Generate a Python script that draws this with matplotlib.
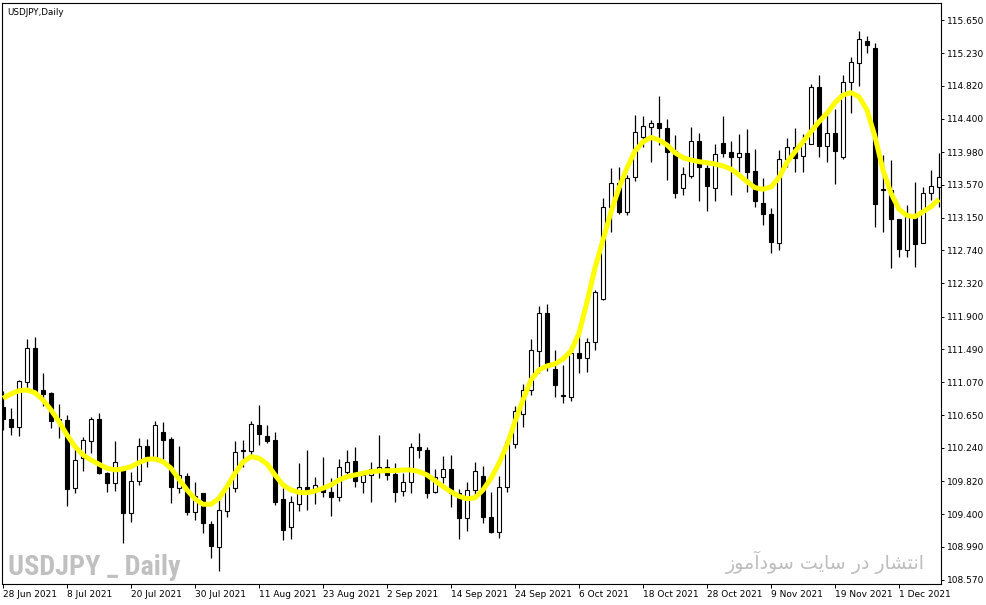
import numpy as np
import matplotlib
matplotlib.use('Agg')
import matplotlib.pyplot as plt
from matplotlib import font_manager

# chart texts
symbol_title = 'USDJPY,Daily'
watermark = 'USDJPY _ Daily'
persian_note = 'انتشار در سایت سودآموز'

# x axis labels (every 8th daily bar, bars counted from 28 Jun 2021)
date_label_bars = [0, 8, 16, 24, 32, 40, 48, 56, 64, 72, 80, 88, 96, 104, 112]
date_labels = ['28 Jun 2021', '8 Jul 2021', '20 Jul 2021', '30 Jul 2021', '11 Aug 2021',
               '23 Aug 2021', '2 Sep 2021', '14 Sep 2021', '24 Sep 2021', '6 Oct 2021',
               '18 Oct 2021', '28 Oct 2021', '9 Nov 2021', '19 Nov 2021', '1 Dec 2021']

# y axis labels
price_labels = ['115.650', '115.230', '114.820', '114.400', '113.980', '113.570',
                '113.150', '112.740', '112.320', '111.900', '111.490', '111.070',
                '110.650', '110.240', '109.820', '109.400', '108.990', '108.570']

# daily OHLC
opens = [110.754, 110.606, 110.508, 111.077, 111.499, 110.972, 110.938, 110.600, 110.593, 109.730,
         110.109, 110.331, 110.606, 109.923, 109.793, 109.999, 109.420, 109.818, 110.261, 110.129,
         110.438, 110.353, 109.730, 109.885, 109.433, 109.666, 109.278, 108.983, 109.446, 109.730,
         110.206, 110.205, 110.530, 110.387, 110.340, 109.590, 109.236, 109.527, 109.742, 109.699,
         109.730, 109.678, 109.623, 109.932, 110.075, 109.813, 109.899, 109.965, 109.995, 109.910,
         109.692, 109.806, 110.248, 110.214, 109.678, 109.869, 109.970, 109.666, 109.350, 109.708,
         109.881, 109.362, 109.180, 109.750, 110.294, 110.665, 110.968, 111.469, 111.942, 111.234,
         110.909, 110.888, 111.436, 111.373, 111.583, 112.119, 113.282, 113.585, 113.226, 113.661,
         114.175, 114.301, 114.344, 114.281, 113.994, 113.530, 113.681, 114.120, 113.775, 113.530,
         114.091, 113.977, 113.922, 113.965, 113.741, 113.332, 113.193, 112.834, 113.889, 114.041,
         113.931, 114.082, 114.799, 114.061, 114.225, 113.914, 114.862, 115.103, 115.388, 115.292,
         113.514, 113.497, 113.130, 112.742, 113.163, 112.827, 113.459, 113.542]

highs = [110.964, 110.745, 111.099, 111.617, 111.646, 111.184, 110.951, 110.795, 110.656, 110.235,
         110.382, 110.627, 110.678, 109.930, 110.331, 110.005, 109.940, 110.362, 110.349, 110.580,
         110.564, 110.374, 110.261, 109.919, 109.806, 109.672, 109.316, 109.657, 109.783, 110.331,
         110.340, 110.580, 110.783, 110.530, 110.438, 109.730, 109.632, 110.046, 110.214, 109.868,
         110.129, 109.856, 110.096, 110.214, 110.248, 109.953, 110.066, 110.404, 110.096, 110.046,
         109.919, 110.306, 110.425, 110.248, 109.970, 110.138, 110.151, 109.720, 109.806, 110.066,
         110.016, 109.686, 109.885, 110.331, 110.770, 111.044, 111.613, 112.034, 112.059, 111.478,
         111.288, 111.541, 111.765, 111.626, 112.237, 113.396, 113.775, 113.788, 113.690, 114.449,
         114.436, 114.386, 114.689, 114.395, 114.196, 113.788, 114.301, 114.218, 113.816, 114.082,
         114.436, 114.120, 114.205, 114.268, 114.016, 113.648, 113.269, 114.007, 114.154, 114.288,
         114.209, 114.841, 114.955, 114.478, 114.521, 114.955, 115.186, 115.511, 115.448, 115.355,
         113.943, 113.880, 113.134, 113.311, 113.598, 113.543, 113.754, 113.969]

lows = [110.467, 110.404, 110.391, 110.994, 110.922, 110.770, 110.492, 110.366, 109.509, 109.673,
        109.952, 110.172, 109.910, 109.682, 109.698, 109.041, 109.299, 109.771, 110.003, 110.087,
        110.087, 109.547, 109.666, 109.391, 109.328, 109.164, 108.852, 108.683, 109.370, 109.678,
        110.003, 110.142, 110.277, 110.298, 109.518, 109.075, 109.091, 109.446, 109.455, 109.530,
        109.623, 109.382, 109.572, 109.898, 109.750, 109.673, 109.560, 109.856, 109.834, 109.560,
        109.635, 109.666, 110.117, 109.602, 109.666, 109.800, 109.496, 109.083, 109.189, 109.632,
        109.294, 109.164, 109.097, 109.686, 110.235, 110.508, 110.909, 111.183, 111.216, 110.880,
        110.804, 110.837, 111.183, 111.204, 111.478, 112.110, 112.973, 113.197, 113.184, 113.618,
        114.049, 113.860, 114.070, 113.627, 113.395, 113.437, 113.648, 113.365, 113.239, 113.365,
        113.922, 113.437, 113.725, 113.479, 113.282, 113.058, 112.698, 112.742, 113.788, 113.732,
        113.732, 114.079, 113.914, 113.859, 113.572, 113.889, 114.471, 114.816, 115.229, 113.029,
        112.973, 112.511, 112.650, 112.650, 112.531, 112.827, 113.374, 113.282]

closes = [110.602, 110.508, 111.082, 111.499, 110.931, 110.922, 110.584, 110.590, 109.725, 110.084,
          110.340, 110.606, 109.927, 109.800, 110.058, 109.420, 109.818, 110.261, 110.129, 110.526,
          110.340, 109.742, 109.899, 109.433, 109.632, 109.290, 109.003, 109.451, 109.742, 110.192,
          110.214, 110.539, 110.412, 110.331, 109.560, 109.202, 109.552, 109.742, 109.699, 109.775,
          109.678, 109.623, 110.003, 110.058, 109.826, 109.899, 109.970, 109.995, 109.894, 109.686,
          109.806, 110.248, 110.214, 109.673, 109.876, 109.970, 109.666, 109.350, 109.708, 109.945,
          109.370, 109.180, 109.750, 110.311, 110.711, 110.968, 111.474, 111.942, 111.267, 111.039,
          110.890, 111.436, 111.373, 111.583, 112.215, 113.282, 113.585, 113.226, 113.656, 114.231,
          114.310, 114.344, 114.288, 113.985, 113.466, 113.699, 114.120, 113.795, 113.555, 113.952,
          113.972, 113.922, 113.965, 113.732, 113.365, 113.197, 112.847, 113.889, 114.041, 113.902,
          114.091, 114.799, 114.061, 114.225, 113.998, 114.862, 115.115, 115.406, 115.330, 113.320,
          113.503, 113.130, 112.751, 113.163, 112.814, 113.459, 113.551, 113.661]

# yellow moving average line
ma = [110.867, 110.922, 110.964, 110.972, 110.938, 110.846, 110.720, 110.572, 110.404, 110.256,
      110.151, 110.087, 110.033, 109.983, 109.961, 109.974, 110.003, 110.054, 110.096, 110.100,
      110.066, 109.983, 109.844, 109.708, 109.594, 109.527, 109.527, 109.602, 109.750, 109.919,
      110.062, 110.129, 110.109, 110.037, 109.898, 109.771, 109.708, 109.678, 109.673, 109.695,
      109.730, 109.771, 109.834, 109.876, 109.898, 109.919, 109.940, 109.948, 109.952, 109.952,
      109.961, 109.961, 109.940, 109.898, 109.826, 109.750, 109.686, 109.628, 109.597, 109.609,
      109.708, 109.856, 110.046, 110.277, 110.572, 110.846, 111.099, 111.225, 111.276, 111.301,
      111.364, 111.465, 111.689, 112.085, 112.515, 112.869, 113.223, 113.526, 113.779, 113.994,
      114.111, 114.164, 114.133, 114.070, 113.972, 113.909, 113.880, 113.859, 113.846, 113.829,
      113.804, 113.766, 113.691, 113.606, 113.530, 113.510, 113.539, 113.659, 113.849, 113.985,
      114.111, 114.238, 114.364, 114.470, 114.604, 114.702, 114.731, 114.680, 114.512, 114.175,
      113.754, 113.459, 113.257, 113.178, 113.163, 113.226, 113.290, 113.383]

# simple Arabic-script shaping (matplotlib has no shaping / bidi)
FORMS = {  # isolated, final, initial, medial
    'ا': ('\uFE8D', '\uFE8E', None, None),
    'آ': ('\uFE81', '\uFE82', None, None),
    'د': ('\uFEA9', '\uFEAA', None, None),
    'ر': ('\uFEAD', '\uFEAE', None, None),
    'ز': ('\uFEAF', '\uFEB0', None, None),
    'و': ('\uFEED', '\uFEEE', None, None),
    'ت': ('\uFE95', '\uFE96', '\uFE97', '\uFE98'),
    'ن': ('\uFEE5', '\uFEE6', '\uFEE7', '\uFEE8'),
    'ش': ('\uFEB5', '\uFEB6', '\uFEB7', '\uFEB8'),
    'س': ('\uFEB1', '\uFEB2', '\uFEB3', '\uFEB4'),
    'م': ('\uFEE1', '\uFEE2', '\uFEE3', '\uFEE4'),
    'ی': ('\uFBFC', '\uFBFD', '\uFBFE', '\uFBFF'),
}


def shape_word(word):
    out = []
    for k, ch in enumerate(word):
        iso, fin, ini, med = FORMS[ch]
        prev_joins = k > 0 and FORMS[word[k - 1]][2] is not None
        next_joins = k < len(word) - 1 and ini is not None
        if prev_joins and next_joins:
            g = med
        elif prev_joins:
            g = fin
        elif next_joins:
            g = ini
        else:
            g = iso
        out.append(g)
    return ''.join(reversed(out))


def visual_rtl(text):
    return ' '.join(shape_word(w) for w in reversed(text.split()))


W, H = 987, 605
fig = plt.figure(figsize=(W / 100, H / 100), dpi=100, facecolor='white')
ax = fig.add_axes([2 / W, 1 - 584 / H, (941 - 2) / W, (584 - 3) / H])
ax.set_facecolor('white')

x = np.arange(len(opens))
o = np.array(opens)
c = np.array(closes)
bull = c >= o
bottoms = np.minimum(o, c)
heights = np.abs(c - o)

ax.vlines(x, lows, highs, color='black', linewidth=0.9, zorder=1)
ax.bar(x, heights, bottom=bottoms, width=0.5,
       color=np.where(bull, 'white', 'black'), edgecolor='black',
       linewidth=0.8, zorder=2)
ax.plot(x, ma, color='#ffff00', linewidth=3.6, solid_capstyle='butt', zorder=3)

ax.set_xlim(-0.125, 117.25)
ax.set_ylim(108.519, 115.865)

ax.yaxis.tick_right()
ax.set_yticks([float(s) for s in price_labels])
ax.set_yticklabels(price_labels)
ax.set_xticks(date_label_bars)
ax.set_xticklabels(date_labels)
for lbl in ax.get_xticklabels():
    lbl.set_horizontalalignment('left')

ax.tick_params(axis='y', direction='out', length=2.4, width=0.7, pad=1.6,
               labelsize=6.5, colors='black')
ax.tick_params(axis='x', direction='out', length=2.8, width=0.7, pad=1.4,
               labelsize=6.5, colors='black')
for sp in ax.spines.values():
    sp.set_color('black')
    sp.set_linewidth(0.8)

fig.text(7 / W, 1 - 12.5 / H, symbol_title, fontsize=6.3, color='black',
         ha='left', va='center')

# a narrow bold face if one is installed, for the big grey watermark
names = {f.name for f in font_manager.fontManager.ttflist}
wm_family = 'Liberation Sans'
for cand in ['Liberation Sans Narrow', 'DejaVu Sans Condensed', 'Roboto Condensed',
             'Open Sans Condensed']:
    if cand in names:
        wm_family = cand
        break
wm = fig.text(8 / W, 1 - 575 / H, watermark, fontsize=22, fontweight='bold',
              family=wm_family, color='#c0c0c0', ha='left', va='baseline')
fa = fig.text(925 / W, 1 - 569 / H, visual_rtl(persian_note), fontsize=18,
              family=['DejaVu Sans'], color='#bdbdbd', ha='right', va='baseline')

# fit the two watermark texts to their width in the reference
fig.canvas.draw()
renderer = fig.canvas.get_renderer()
wm_target = 172 if wm_family != 'Liberation Sans' else 184
for txt, target in ((wm, wm_target), (fa, 198)):
    w = txt.get_window_extent(renderer).width
    txt.set_fontsize(txt.get_fontsize() * target / w)

fig.savefig('out.png', dpi=100, facecolor='white')
